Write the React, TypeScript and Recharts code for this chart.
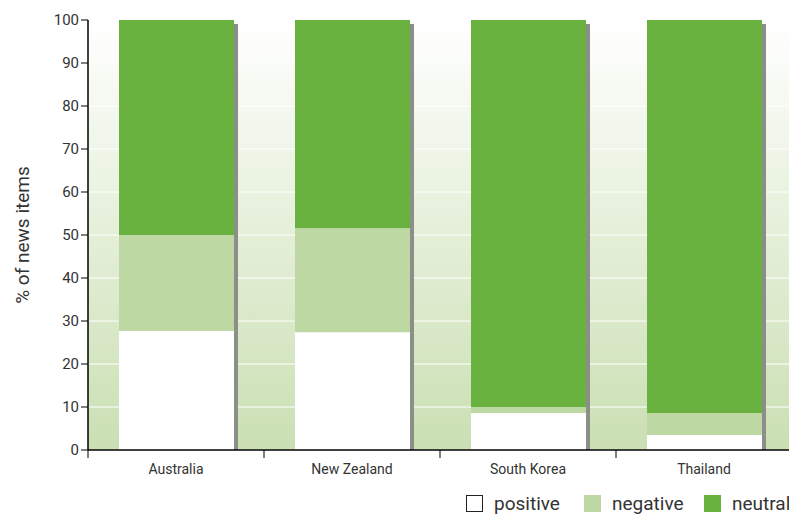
import React from "react";
import { BarChart, Bar, XAxis, YAxis, CartesianGrid } from "recharts";

const countries = ["Australia", "New Zealand", "South Korea", "Thailand"];
const positive = [27.7, 27.4, 8.6, 3.5];
const negative = [22.3, 24.2, 1.4, 5.1];
const neutral = [50.0, 48.4, 90.0, 91.4];
const yTicks = [0, 10, 20, 30, 40, 50, 60, 70, 80, 90, 100];

const data = countries.map((country, i) => ({
  country,
  positive: positive[i],
  negative: negative[i],
  neutral: neutral[i],
}));

const FONT = "Roboto, 'Noto Sans', sans-serif";
const SHADOW = "#8b8f87";

// bar segment with a grey drop shadow strip on its right side
const ShadowBar = (props: any) => {
  const { x, y, width, height, fill, isTop } = props;
  if (!height || height <= 0) return null;
  const sy = isTop ? y + 4 : y;
  const sh = isTop ? height - 4 : height;
  return (
    <g>
      <rect x={x + width} y={sy} width={4} height={Math.max(sh, 0)} fill={SHADOW} />
      <rect x={x} y={y} width={width} height={height} fill={fill} />
    </g>
  );
};

const CountryTick = (props: any) => {
  const { x, y, payload } = props;
  const half = payload.offset ?? 88;
  return (
    <g>
      <line x1={x - half} y1={y - 8} x2={x - half} y2={y} stroke="#000" strokeWidth={1} />
      <text x={x} y={y + 16} textAnchor="middle" fill="#333" fontSize={14} fontFamily={FONT}>
        {payload.value}
      </text>
    </g>
  );
};

const legendItems = [
  { label: "positive", color: "#ffffff", border: true, left: 466 },
  { label: "negative", color: "#bdd8a2", border: false, left: 584 },
  { label: "neutral", color: "#6ab23f", border: false, left: 704 },
];

export default function App() {
  return (
    <div style={{ position: "absolute", left: 0, top: 0, width: 789, height: 515, overflow: "hidden", background: "#fff" }}>
      <BarChart
        width={800}
        height={515}
        data={data}
        margin={{ top: 20, right: 8, left: 0, bottom: 35 }}
      >
        <defs>
          <linearGradient id="plotBg" x1="0" y1="0" x2="0" y2="1">
            <stop offset="0%" stopColor="#ffffff" />
            <stop offset="100%" stopColor="#cadfb2" />
          </linearGradient>
        </defs>
        <CartesianGrid
          vertical={false}
          stroke="#ffffff"
          strokeWidth={1}
          fill="url(#plotBg)"
          fillOpacity={1}
        />
        <XAxis
          dataKey="country"
          height={30}
          tickLine={false}
          axisLine={{ stroke: "#000", strokeWidth: 1.5 }}
          tick={<CountryTick />}
          interval={0}
        />
        <YAxis
          width={88}
          domain={[0, 100]}
          ticks={yTicks}
          interval={0}
          tickSize={7}
          tickLine={{ stroke: "#000" }}
          axisLine={{ stroke: "#000", strokeWidth: 1.5 }}
          tick={{ fill: "#333", fontSize: 15, fontFamily: FONT }}
          label={{
            value: "% of news items",
            angle: -90,
            position: "insideLeft",
            offset: 22,
            style: { textAnchor: "middle", fill: "#333", fontSize: 19, fontFamily: FONT },
          }}
        />
        <Bar dataKey="positive" stackId="a" fill="#ffffff" barSize={115} isAnimationActive={false} shape={<ShadowBar />} />
        <Bar dataKey="negative" stackId="a" fill="#bdd8a2" barSize={115} isAnimationActive={false} shape={<ShadowBar />} />
        <Bar dataKey="neutral" stackId="a" fill="#6ab23f" barSize={115} isAnimationActive={false} shape={<ShadowBar isTop />} />
      </BarChart>
      {legendItems.map((item) => (
        <div
          key={item.label}
          style={{
            position: "absolute",
            top: 492,
            left: item.left,
            height: 22,
            display: "flex",
            alignItems: "center",
            fontFamily: FONT,
            fontSize: 19,
            color: "#333",
            whiteSpace: "nowrap",
          }}
        >
          <span
            style={{
              width: 17,
              height: 17,
              background: item.color,
              border: item.border ? "1px solid #222" : "none",
              boxSizing: "border-box",
              display: "inline-block",
              marginRight: 11,
            }}
          />
          <span>{item.label}</span>
        </div>
      ))}
    </div>
  );
}
